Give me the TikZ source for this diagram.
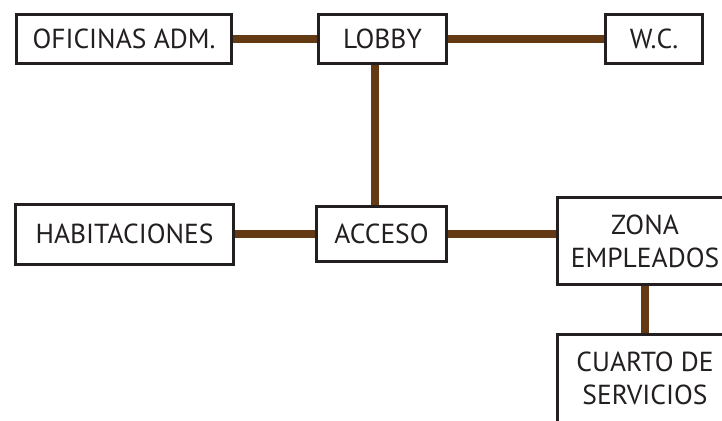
\documentclass[tikz,border=0pt]{standalone}
\usepackage{fontspec}
\setmainfont{PT Sans}
\usepackage{xcolor}
\definecolor{BoxLine}{HTML}{231F20}
\definecolor{LinkBrown}{HTML}{633A14}

\begin{document}
\begin{tikzpicture}[x=1pt, y=-1pt,
		room/.style={draw=BoxLine, line width=3pt, fill=white, inner sep=0pt, align=center,
			text=BoxLine, font=\fontsize{27.5}{33}\selectfont},
		link/.style={color=LinkBrown, line width=8pt}]
		\useasboundingbox (0,0) rectangle (722,420);
		% Draw the rooms
		\node[room, minimum width=215, minimum height=49] (ofi) at (124,39) {OFICINAS ADM.};
		\node[room, minimum width=128, minimum height=49] (lobby) at (382.5,39) {LOBBY};
		\node[room, minimum width=97, minimum height=49] (wc) at (654,39) {W.C.};
		\node[room, minimum width=218, minimum height=60] (hab) at (124.5,234) {HABITACIONES};
		\node[room, minimum width=130, minimum height=55] (acc) at (381.5,234) {ACCESO};
		\node[room, minimum width=175, minimum height=87] (zona) at (645,241) {ZONA\\EMPLEADOS};
		\node[room, minimum width=175, minimum height=88] (cuarto) at (645,378.5) {CUARTO DE\\SERVICIOS};
		
		\draw[link] (ofi) -- (lobby);
		\draw[link] (lobby) -- (wc);
		\draw[link] ([xshift=-8pt]lobby.south) -- ([xshift=-7pt]acc.north);
		\draw[link] (hab) -- (acc);
		\draw[link] (acc.east) -- (acc.east -| zona.west);
		\draw[link] (zona) -- (cuarto);
	\end{tikzpicture}
\end{document}
